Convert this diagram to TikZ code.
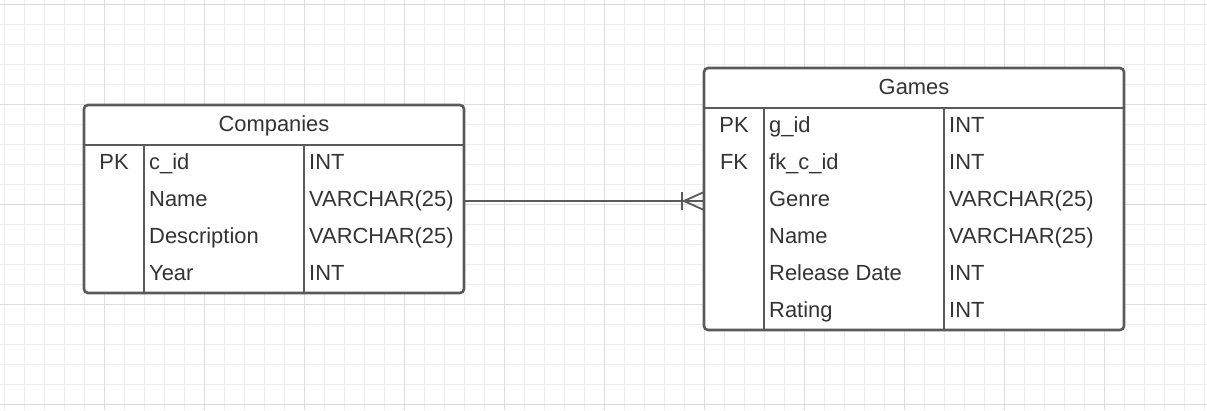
\documentclass[tikz,border=0pt]{standalone}
\usepackage{fontspec}
\setmainfont{Liberation Sans}
\definecolor{gridminor}{HTML}{EDEDED}
\definecolor{gridmajor}{HTML}{DEDEDE}
\definecolor{ln}{HTML}{5A5A5A}
\definecolor{txt}{HTML}{333333}
\begin{document}
\begin{tikzpicture}[x=1pt,y=-1pt,
  tbl/.style={draw=ln,line width=2.6pt,rounded corners=4pt,fill=white,inner sep=0pt,outer sep=0pt,anchor=north west},
  sep/.style={draw=ln,line width=2.6pt},
  cell/.style={font=\fontsize{21.9}{24}\selectfont,text=txt,inner sep=0pt,text height=15.5pt,text depth=4.5pt,anchor=west},
  ctr/.style={font=\fontsize{21.9}{24}\selectfont,text=txt,inner sep=0pt,text height=15.5pt,text depth=4.5pt},
  rel/.style={draw=ln,line width=1.8pt}]
\useasboundingbox (0,0) rectangle (1207,410);
\fill[white] (0,0) rectangle (1207,410);
\foreach \x in {4,24,...,1204} \draw[gridminor,line width=1pt] (\x,0) -- (\x,410);
\foreach \y in {4,24,...,404} \draw[gridminor,line width=1pt] (0,\y) -- (1207,\y);
\foreach \x in {104,204,...,1104} \draw[gridmajor,line width=1pt] (\x,0) -- (\x,410);
\foreach \y in {4,104,...,404} \draw[gridmajor,line width=1pt] (0,\y) -- (1207,\y);

% Companies
\node[tbl,minimum width=380pt,minimum height=188pt] (comp) at (84,105) {};
\draw[sep] (84,145) -- (464,145);
\draw[sep] (144,145) -- (144,293);
\draw[sep] (304,145) -- (304,293);
\node[ctr] (compt) at (274,125.5) {Companies};
\node[ctr] (cpk) at (114,163.5) {PK};
\node[cell] (c1a) at (149,163.5) {c\_id};
\node[cell] (c1b) at (309,163.5) {INT};
\node[cell] (c2a) at (149,200.5) {Name};
\node[cell] (c2b) at (309,200.5) {VARCHAR(25)};
\node[cell] (c3a) at (149,237.5) {Description};
\node[cell] (c3b) at (309,237.5) {VARCHAR(25)};
\node[cell] (c4a) at (149,274.5) {Year};
\node[cell] (c4b) at (309,274.5) {INT};

% Games
\node[tbl,minimum width=420pt,minimum height=262pt] (games) at (704,68) {};
\draw[sep] (704,108) -- (1124,108);
\draw[sep] (764,108) -- (764,330);
\draw[sep] (944,108) -- (944,330);
\node[ctr] (gamest) at (914,88.5) {Games};
\node[ctr] (gpk) at (734,126.5) {PK};
\node[ctr] (gfk) at (734,163.5) {FK};
\node[cell] (g1a) at (769,126.5) {g\_id};
\node[cell] (g1b) at (949,126.5) {INT};
\node[cell] (g2a) at (769,163.5) {fk\_c\_id};
\node[cell] (g2b) at (949,163.5) {INT};
\node[cell] (g3a) at (769,200.5) {Genre};
\node[cell] (g3b) at (949,200.5) {VARCHAR(25)};
\node[cell] (g4a) at (769,237.5) {Name};
\node[cell] (g4b) at (949,237.5) {VARCHAR(25)};
\node[cell] (g5a) at (769,274.5) {Release Date};
\node[cell] (g5b) at (949,274.5) {INT};
\node[cell] (g6a) at (769,311.5) {Rating};
\node[cell] (g6b) at (949,311.5) {INT};

% relation
\coordinate (ra) at ([yshift=-2pt]comp.east);
\coordinate (rb) at ([yshift=-2pt]games.west);
\draw[rel] (ra) -- (rb);
\draw[rel] ([xshift=-22pt]rb) ++(0,-9) -- ++(0,18);
\draw[rel] ([xshift=-20pt]rb) -- ([yshift=-9pt]rb);
\draw[rel] ([xshift=-20pt]rb) -- ([yshift=9pt]rb);
\end{tikzpicture}
\end{document}
